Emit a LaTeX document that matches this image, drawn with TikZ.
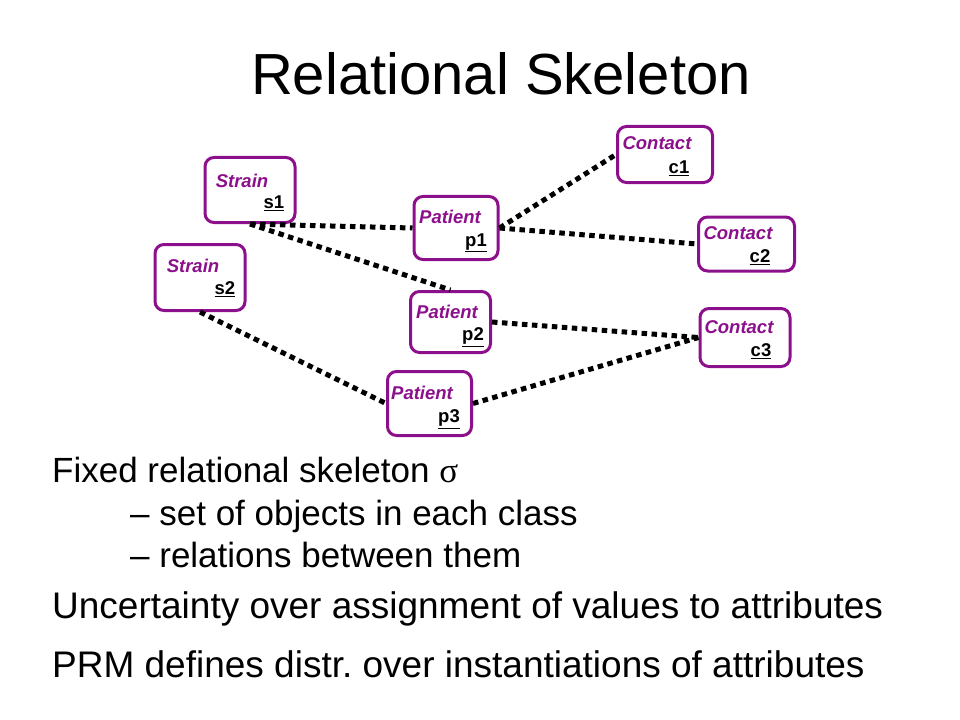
\documentclass[tikz,border=0pt]{standalone}
\usepackage{fontspec}
\setmainfont{Liberation Sans}
\newfontfamily\greekfont{Liberation Serif}
\definecolor{objpurple}{RGB}{140,16,140}
\tikzset{
  objbox/.style={draw=objpurple, line width=3bp, rounded corners=9bp, fill=white, inner sep=0pt},
  clsname/.style={text=objpurple, inner sep=0pt, font=\fontsize{18.5bp}{20bp}\selectfont\bfseries\itshape},
  objid/.style={inner sep=0pt, font=\fontsize{18.5bp}{20bp}\selectfont\bfseries},
  link/.style={line width=5bp, dash pattern=on 5.5bp off 4.5bp},
  bodyline/.style={anchor=base west, inner sep=0pt, font=\fontsize{37bp}{40bp}\selectfont},
  subline/.style={anchor=base west, inner sep=0pt, font=\fontsize{35bp}{38bp}\selectfont},
}
\begin{document}
\begin{tikzpicture}[x=1bp, y=-1bp]
            \useasboundingbox (0,0) rectangle (960,720);
            \node[anchor=base, inner sep=0pt, font=\fontsize{58bp}{60bp}\selectfont] (title) at (501,95) {Relational Skeleton};

            \node[objbox, minimum width=90bp, minimum height=65bp] (s1) at (250,190) {};
            \node[clsname] (s1cls) at (242,181) {Strain};
            \node[objid] (s1id) at (274,203) {\underline{s1}};
            \node[objbox, minimum width=90bp, minimum height=66bp] (s2) at (200,277.5) {};
            \node[clsname] (s2cls) at (193,266) {Strain};
            \node[objid] (s2id) at (225,289) {\underline{s2}};

            \node[objbox, minimum width=84bp, minimum height=63bp] (p1) at (456,228) {};
            \node[clsname] (p1cls) at (450,217) {Patient};
            \node[objid] (p1id) at (476,243) {\underline{p1}};
            \node[objbox, minimum width=80bp, minimum height=61bp] (p2) at (450.5,322) {};
            \node[clsname] (p2cls) at (447,312) {Patient};
            \node[objid] (p2id) at (473,337) {\underline{p2}};
            \node[objbox, minimum width=84bp, minimum height=64bp] (p3) at (429.5,403.5) {};
            \node[clsname] (p3cls) at (422,393) {Patient};
            \node[objid] (p3id) at (449,419) {\underline{p3}};

            \node[objbox, minimum width=95bp, minimum height=56bp] (c1) at (665,154.5) {};
            \node[clsname] (c1cls) at (657,143) {Contact};
            \node[objid] (c1id) at (679,168) {\underline{c1}};
            \node[objbox, minimum width=96bp, minimum height=54bp] (c2) at (746.5,244) {};
            \node[clsname] (c2cls) at (738,233) {Contact};
            \node[objid] (c2id) at (760,257) {\underline{c2}};
            \node[objbox, minimum width=90bp, minimum height=58bp] (c3) at (745,337.5) {};
            \node[clsname] (c3cls) at (739,327) {Contact};
            \node[objid] (c3id) at (761,351) {\underline{c3}};

            \draw[link] (s1.south) to (p1.west); \draw[link] (s1.south) to (p2.north);
            \draw[link] (s2.south) to (p3.west);
            \draw[link] (p1.east) to (c1.west); \draw[link] (p1.east) to (c2.west);
            \draw[link] (p2.east) to (c3.west); \draw[link] (p3.east) to (c3.west);

            \node[subline] (fixed) at (52,482) {Fixed relational skeleton {\greekfont σ}};
            \node[subline] (objects) at (130,525) {– set of objects in each class};
            \node[subline] (relations) at (130,567) {– relations between them};
            \node[bodyline] (uncert) at (52,618) {Uncertainty over assignment of values to attributes};
            \node[bodyline] (prm) at (52,677) {PRM defines distr.\ over instantiations of attributes};
        \end{tikzpicture}
\end{document}
